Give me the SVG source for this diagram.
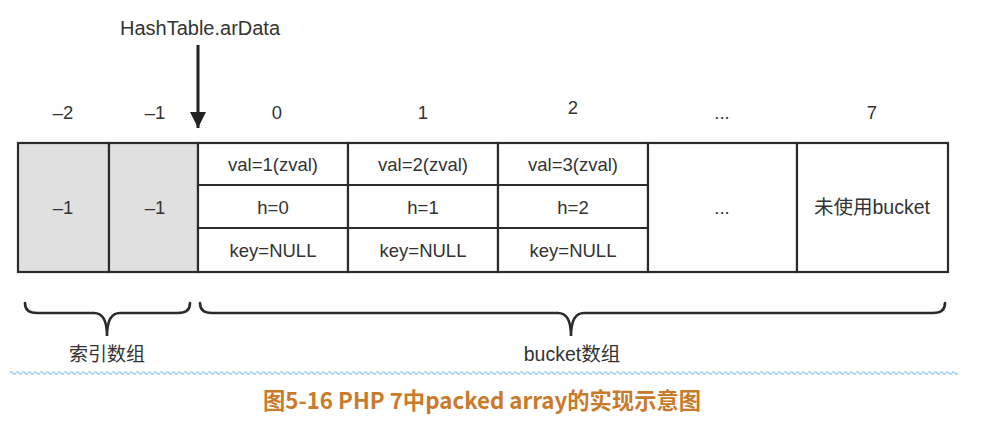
<svg xmlns="http://www.w3.org/2000/svg" width="996" height="423" viewBox="0 0 996 423">
<style>
.t{font-family:"Liberation Sans","Noto Sans CJK SC",sans-serif;font-size:18.5px;fill:#333;text-anchor:middle}
.big{font-size:20px}
.cell{fill:#fff;stroke:#2b2b2b;stroke-width:2.2}
.gray{fill:#e0e0e0;stroke:#2b2b2b;stroke-width:2.2}
.ln{stroke:#2b2b2b;stroke-width:1.8;fill:none}
.brace{stroke:#2b2b2b;stroke-width:2.6;fill:none;stroke-linecap:round}
.cap{font-family:"Noto Sans CJK SC","Noto Sans",sans-serif;font-size:22.3px;font-weight:bold;fill:#c97a2a;text-anchor:middle}
</style>
<defs>
<marker id="ah" viewBox="0 0 10 10" refX="10" refY="5" markerWidth="5.5" markerHeight="8" orient="auto" markerUnits="strokeWidth">
<path d="M0,0 L10,5 L0,10 Z" fill="#222"/>
</marker>
<pattern id="wave" x="10" y="369" width="6" height="8" patternUnits="userSpaceOnUse">
<path d="M0,4 Q1.5,1.5 3,4 T6,4" fill="none" stroke="#7cc0f0" stroke-width="1.2"/>
</pattern>
</defs>
<rect width="996" height="423" fill="#fff"/>

<g id="labels">
<text class="t big" x="200" y="35">HashTable.arData</text>
<text class="t" x="63" y="119">–2</text>
<text class="t" x="155" y="119">–1</text>
<text class="t" x="277" y="119">0</text>
<text class="t" x="423" y="119">1</text>
<text class="t" x="573" y="114">2</text>
<text class="t" x="722" y="119">...</text>
<text class="t" x="872" y="119">7</text>
</g>

<g id="idx-2"><rect class="gray" x="18" y="143" width="91" height="129"/><text class="t" x="63" y="214">–1</text></g>
<g id="idx-1"><rect class="gray" x="109" y="143" width="89" height="129"/><text class="t" x="155" y="214">–1</text></g>

<g id="bucket0">
<rect class="cell" x="198" y="143" width="150" height="129"/>
<line class="ln" x1="198" y1="185" x2="348" y2="185"/><line class="ln" x1="198" y1="228" x2="348" y2="228"/>
<text class="t" x="273" y="171">val=1(zval)</text><text class="t" x="273" y="214">h=0</text><text class="t" x="273" y="257">key=NULL</text>
</g>
<g id="bucket1">
<rect class="cell" x="348" y="143" width="150" height="129"/>
<line class="ln" x1="348" y1="185" x2="498" y2="185"/><line class="ln" x1="348" y1="228" x2="498" y2="228"/>
<text class="t" x="423" y="171">val=2(zval)</text><text class="t" x="423" y="214">h=1</text><text class="t" x="423" y="257">key=NULL</text>
</g>
<g id="bucket2">
<rect class="cell" x="498" y="143" width="150" height="129"/>
<line class="ln" x1="498" y1="185" x2="648" y2="185"/><line class="ln" x1="498" y1="228" x2="648" y2="228"/>
<text class="t" x="573" y="171">val=3(zval)</text><text class="t" x="573" y="214">h=2</text><text class="t" x="573" y="257">key=NULL</text>
</g>
<g id="bucket-etc"><rect class="cell" x="648" y="143" width="149" height="129"/><text class="t" x="722" y="214">...</text></g>
<g id="bucket7"><rect class="cell" x="797" y="143" width="151" height="129"/><text class="t" x="872" y="214" style="font-size:19.5px">未使用bucket</text></g>

<g id="connectors">
<line x1="198" y1="45" x2="198" y2="128" stroke="#222" stroke-width="3" marker-end="url(#ah)"/>
</g>

<g id="braces">
<path class="brace" d="M25,303 Q25,313 37,313 L94,313 Q107,313 107,336 Q107,313 120,313 L178,313 Q190,313 190,303"/>
<path class="brace" d="M200,303 Q200,313 212,313 L558,313 Q571,313 571,336 Q571,313 584,313 L933,313 Q945,313 945,303"/>
<text class="t" x="107" y="361" style="font-size:19px">索引数组</text>
<text class="t" x="572" y="361" style="font-size:19.5px">bucket数组</text>
</g>

<rect x="10" y="369" width="948" height="8" fill="url(#wave)"/>

<text class="cap" x="482" y="409">图5-16 PHP 7中packed array的实现示意图</text>
</svg>
